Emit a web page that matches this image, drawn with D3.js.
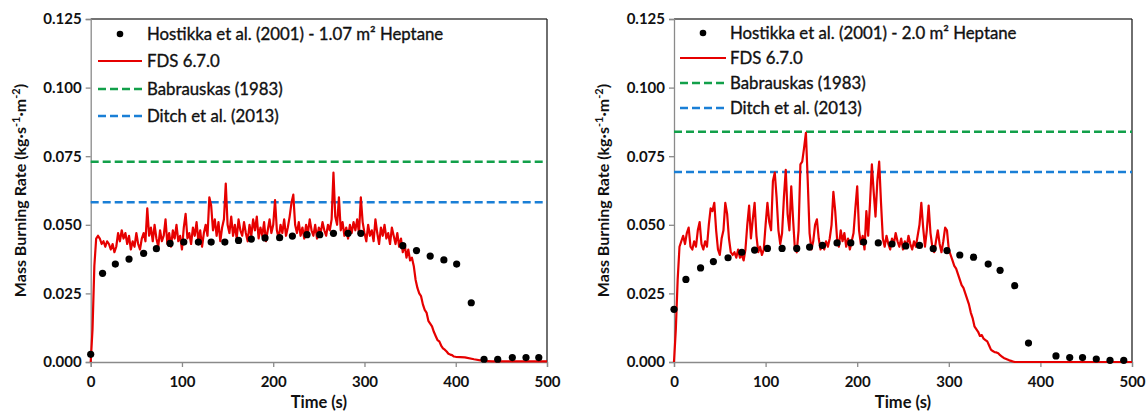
<!DOCTYPE html>
<html>
<head>
<meta charset="utf-8">
<script src="https://cdn.jsdelivr.net/npm/d3@7/dist/d3.min.js"></script>
<style>
  body { margin: 0; background: #fff; }
  svg { display: block; font-family: Lato, "Open Sans", sans-serif; }
</style>
</head>
<body>
<svg id="chart" width="1147" height="415"></svg>
<script>
// ---- data -------------------------------------------------------------
const X_TICKS = [0, 100, 200, 300, 400, 500];
const Y_TICKS = [0, 0.025, 0.05, 0.075, 0.1, 0.125];

// Hostikka et al. (2001) measurements
const hostLeftT = [0, 13, 27, 42, 58, 72, 87, 102, 118, 132, 147, 162, 176, 191, 207, 221, 237, 251, 266, 282, 296, 342, 357, 372, 387, 401, 417, 431, 446, 462, 477, 491];
const hostLeftV = [0.0028, 0.0323, 0.0357, 0.0375, 0.0396, 0.0413, 0.0432, 0.0437, 0.0437, 0.0437, 0.0437, 0.0443, 0.0448, 0.0452, 0.0453, 0.0459, 0.0464, 0.0464, 0.0469, 0.0469, 0.0469, 0.0424, 0.0406, 0.0386, 0.0372, 0.0357, 0.0216, 0.0010, 0.0010, 0.0016, 0.0016, 0.0016];
const hostRightT = [0, 13, 29, 43, 59, 74, 88, 102, 118, 134, 148, 162, 178, 193, 207, 223, 238, 253, 268, 283, 298, 312, 327, 343, 356, 372, 387, 417, 432, 446, 461, 476, 491];
const hostRightV = [0.0192, 0.0301, 0.0343, 0.0366, 0.0380, 0.0400, 0.0408, 0.0414, 0.0414, 0.0414, 0.0419, 0.0425, 0.0434, 0.0434, 0.0437, 0.0434, 0.0430, 0.0423, 0.0425, 0.0413, 0.0406, 0.0390, 0.0382, 0.0357, 0.0334, 0.0278, 0.0069, 0.0022, 0.0016, 0.0016, 0.0011, 0.0006, 0.0006];

// FDS 6.7.0, one value every 2 s, then a sparse tail
const fdsLeftV = [
  0.000, 0.012, 0.035, 0.045, 0.046, 0.045, 0.043, 0.044, 0.042, 0.044,
  0.043, 0.041, 0.043, 0.040, 0.042, 0.047, 0.044, 0.048, 0.045, 0.047,
  0.043, 0.046, 0.041, 0.044, 0.042, 0.047, 0.043, 0.041, 0.045, 0.047,
  0.044, 0.056, 0.046, 0.049, 0.044, 0.050, 0.045, 0.042, 0.048, 0.044,
  0.046, 0.052, 0.043, 0.047, 0.042, 0.048, 0.045, 0.050, 0.044, 0.046,
  0.041, 0.049, 0.054, 0.045, 0.047, 0.043, 0.049, 0.046, 0.051, 0.044,
  0.048, 0.042, 0.047, 0.050, 0.046, 0.060, 0.057, 0.048, 0.052, 0.046,
  0.051, 0.044, 0.049, 0.052, 0.065, 0.050, 0.047, 0.053, 0.046, 0.050,
  0.045, 0.052, 0.048, 0.046, 0.051, 0.047, 0.044, 0.050, 0.046, 0.052,
  0.048, 0.053, 0.045, 0.049, 0.046, 0.051, 0.044, 0.048, 0.052, 0.047,
  0.050, 0.059, 0.048, 0.045, 0.050, 0.047, 0.052, 0.046, 0.049, 0.053,
  0.058, 0.061, 0.050, 0.047, 0.051, 0.046, 0.049, 0.045, 0.050, 0.047,
  0.052, 0.048, 0.046, 0.050, 0.045, 0.049, 0.047, 0.051, 0.048, 0.046,
  0.050, 0.048, 0.052, 0.069, 0.053, 0.050, 0.060, 0.048, 0.051, 0.046,
  0.049, 0.045, 0.050, 0.047, 0.051, 0.048, 0.052, 0.047, 0.060, 0.051,
  0.047, 0.044, 0.050, 0.046, 0.048, 0.044, 0.052, 0.047, 0.043, 0.049,
  0.046, 0.050, 0.045, 0.047, 0.043, 0.049, 0.046, 0.043, 0.047, 0.042,
  0.045, 0.040, 0.043, 0.038, 0.041, 0.037, 0.038, 0.035, 0.030, 0.027,
  0.025, 0.024, 0.021, 0.019, 0.018, 0.015, 0.014, 0.013, 0.011, 0.0095,
  0.008, 0.0075, 0.006, 0.005, 0.0045, 0.0038, 0.003, 0.0027, 0.0025, 0.002,
  0.0019
];
const fdsLeftTailT = [410, 420, 430, 440, 460, 480, 500];
const fdsLeftTailV = [0.0017, 0.0010, 0.0004, 0.0002, 0.0002, 0.0002, 0.0002];

const fdsRightV = [
  0.000, 0.012, 0.030, 0.042, 0.044, 0.046, 0.043, 0.047, 0.049, 0.042,
  0.041, 0.044, 0.042, 0.048, 0.051, 0.043, 0.041, 0.044, 0.042, 0.050,
  0.056, 0.055, 0.058, 0.048, 0.041, 0.039, 0.045, 0.048, 0.058, 0.054,
  0.045, 0.040, 0.039, 0.040, 0.038, 0.041, 0.038, 0.039, 0.037, 0.041,
  0.050, 0.057, 0.045, 0.052, 0.058, 0.046, 0.040, 0.042, 0.039, 0.041,
  0.050, 0.058, 0.051, 0.048, 0.066, 0.069, 0.060, 0.048, 0.043, 0.047,
  0.060, 0.070, 0.054, 0.048, 0.064, 0.052, 0.041, 0.040, 0.048, 0.072,
  0.073, 0.078, 0.0835, 0.066, 0.047, 0.041, 0.044, 0.050, 0.052, 0.045,
  0.041, 0.043, 0.041, 0.044, 0.042, 0.045, 0.050, 0.062, 0.055, 0.045,
  0.042, 0.048, 0.044, 0.047, 0.042, 0.045, 0.041, 0.044, 0.047, 0.056,
  0.064, 0.048, 0.043, 0.046, 0.041, 0.055, 0.046, 0.058, 0.072, 0.062,
  0.053, 0.066, 0.073, 0.058, 0.045, 0.042, 0.046, 0.043, 0.041, 0.045,
  0.043, 0.047, 0.044, 0.042, 0.045, 0.041, 0.044, 0.042, 0.046, 0.043,
  0.041, 0.044, 0.042, 0.046, 0.050, 0.058, 0.049, 0.042, 0.048, 0.057,
  0.047, 0.042, 0.040, 0.044, 0.048, 0.043, 0.040, 0.044, 0.049, 0.048,
  0.041, 0.039, 0.037, 0.035, 0.034, 0.032, 0.030, 0.028, 0.027, 0.025,
  0.023, 0.021, 0.018, 0.016, 0.013, 0.012, 0.011, 0.0095, 0.0098, 0.0085,
  0.008, 0.0075, 0.006, 0.0045, 0.004, 0.0036, 0.0035, 0.0032, 0.0025, 0.002,
  0.0015, 0.0012, 0.0009, 0.0006, 0.0004, 0.0002, 0.0
];
const fdsRightTailT = [380, 400, 450, 500];
const fdsRightTailV = [0, 0, 0, 0];

// correlation levels
const babrauskas = [0.0730, 0.0839];
const ditch = [0.0582, 0.0692];

const hostLabels = ["Hostikka et al. (2001) - 1.07 m\u00B2 Heptane", "Hostikka et al. (2001) - 2.0 m\u00B2 Heptane"];
const seriesNames = ["FDS 6.7.0", "Babrauskas (1983)", "Ditch et al. (2013)"];

// ---- drawing ----------------------------------------------------------
const RED = "#e60000", GREEN = "#12a04a", BLUE = "#1a7fd6";

const svg = d3.select("#chart");

const toPts = (T, V) => T.map((t, i) => ({ t: t, v: V[i] }));
const fdsPts = (V, tailT, tailV) =>
  V.map((v, i) => ({ t: i * 2, v: v })).concat(toPts(tailT, tailV));

const panels = [
  {
    left: 90.7, right: 547, ylab: 20,
    host: toPts(hostLeftT, hostLeftV),
    fds: fdsPts(fdsLeftV, fdsLeftTailT, fdsLeftTailV),
    bab: babrauskas[0], ditch: ditch[0], label: hostLabels[0],
    leg: { dot: 120, x0: 98, x1: 142, tx: 147, y: [34, 61, 89, 116] }
  },
  {
    left: 674, right: 1132, ylab: 603,
    host: toPts(hostRightT, hostRightV),
    fds: fdsPts(fdsRightV, fdsRightTailT, fdsRightTailV),
    bab: babrauskas[1], ditch: ditch[1], label: hostLabels[1],
    leg: { dot: 703, x0: 680, x1: 726, tx: 730, y: [33, 58, 83, 108] }
  }
];

const plotTop = 19, plotBottom = 362;

panels.forEach(p => {
  const x = d3.scaleLinear().domain([0, 500]).range([p.left, p.right]);
  const y = d3.scaleLinear().domain([0, 0.125]).range([plotBottom, plotTop]);
  const g = svg.append("g");

  // frame (top/right darker like the original)
  g.append("line").attr("x1", p.left).attr("x2", p.right).attr("y1", plotTop).attr("y2", plotTop)
    .attr("stroke", "#444").attr("stroke-width", 1.3);
  g.append("line").attr("x1", p.right).attr("x2", p.right).attr("y1", plotTop).attr("y2", plotBottom)
    .attr("stroke", "#222").attr("stroke-width", 1.3);

  const yAxis = g.append("g").attr("transform", "translate(" + p.left + ",0)")
    .call(d3.axisLeft(y).tickValues(Y_TICKS).tickFormat(d3.format(".3f")).tickSizeOuter(0).tickSize(5).tickPadding(4));
  const xAxis = g.append("g").attr("transform", "translate(0," + plotBottom + ")")
    .call(d3.axisBottom(x).tickValues(X_TICKS).tickFormat(d3.format("d")).tickSizeOuter(0).tickSize(5).tickPadding(9));
  [yAxis, xAxis].forEach(a => {
    a.selectAll("path, line").attr("stroke", "#8a8a8a").attr("stroke-width", 1.3);
    a.selectAll("text").attr("fill", "#111").attr("font-size", "15px").attr("font-weight", "bold")
      .attr("font-family", "Lato, sans-serif");
  });

  // correlation lines
  g.append("line").attr("x1", p.left).attr("x2", p.right)
    .attr("y1", y(p.bab)).attr("y2", y(p.bab))
    .attr("stroke", GREEN).attr("stroke-width", 2.5).attr("stroke-dasharray", "8,4");
  g.append("line").attr("x1", p.left).attr("x2", p.right)
    .attr("y1", y(p.ditch)).attr("y2", y(p.ditch))
    .attr("stroke", BLUE).attr("stroke-width", 2.5).attr("stroke-dasharray", "8,4");

  // FDS curve
  g.append("path").datum(p.fds)
    .attr("fill", "none").attr("stroke", RED).attr("stroke-width", 2.2)
    .attr("stroke-linejoin", "round")
    .attr("d", d3.line().x(d => x(d.t)).y(d => y(d.v)));

  // experiment markers
  g.selectAll("circle.host").data(p.host).enter().append("circle")
    .attr("class", "host")
    .attr("cx", d => x(d.t)).attr("cy", d => y(d.v)).attr("r", 3.6)
    .attr("fill", "#000");

  // legend
  const L = p.leg;
  g.append("circle").attr("cx", L.dot).attr("cy", L.y[0]).attr("r", 3.3).attr("fill", "#000");
  g.append("line").attr("x1", L.x0).attr("x2", L.x1).attr("y1", L.y[1]).attr("y2", L.y[1])
    .attr("stroke", RED).attr("stroke-width", 2.2);
  g.append("line").attr("x1", L.x0).attr("x2", L.x1).attr("y1", L.y[2]).attr("y2", L.y[2])
    .attr("stroke", GREEN).attr("stroke-width", 2.5).attr("stroke-dasharray", "8,4");
  g.append("line").attr("x1", L.x0).attr("x2", L.x1).attr("y1", L.y[3]).attr("y2", L.y[3])
    .attr("stroke", BLUE).attr("stroke-width", 2.5).attr("stroke-dasharray", "8,4");
  [p.label].concat(seriesNames).forEach((s, i) => {
    g.append("text").attr("x", L.tx).attr("y", L.y[i]).attr("dy", "0.35em")
      .attr("font-size", "16.8px").attr("fill", "#111")
      .attr("stroke", "#111").attr("stroke-width", 0.35)
      .text(s);
  });

  // axis titles
  g.append("text").attr("x", (p.left + p.right) / 2).attr("y", 408)
    .attr("text-anchor", "middle").attr("font-size", "16.5px").attr("font-weight", "bold")
    .attr("fill", "#111").text("Time (s)");

  const yl = g.append("text")
    .attr("transform", "translate(" + p.ylab + "," + (plotTop + plotBottom) / 2 + ") rotate(-90)")
    .attr("text-anchor", "middle").attr("dy", "0.35em")
    .attr("font-size", "16px").attr("font-weight", "bold").attr("fill", "#111");
  yl.append("tspan").text("Mass Burning Rate (kg\u00B7s");
  yl.append("tspan").attr("baseline-shift", "super").attr("font-size", "11px").text("-1");
  yl.append("tspan").text("\u00B7m");
  yl.append("tspan").attr("baseline-shift", "super").attr("font-size", "11px").text("-2");
  yl.append("tspan").text(")");
});
</script>
</body>
</html>
